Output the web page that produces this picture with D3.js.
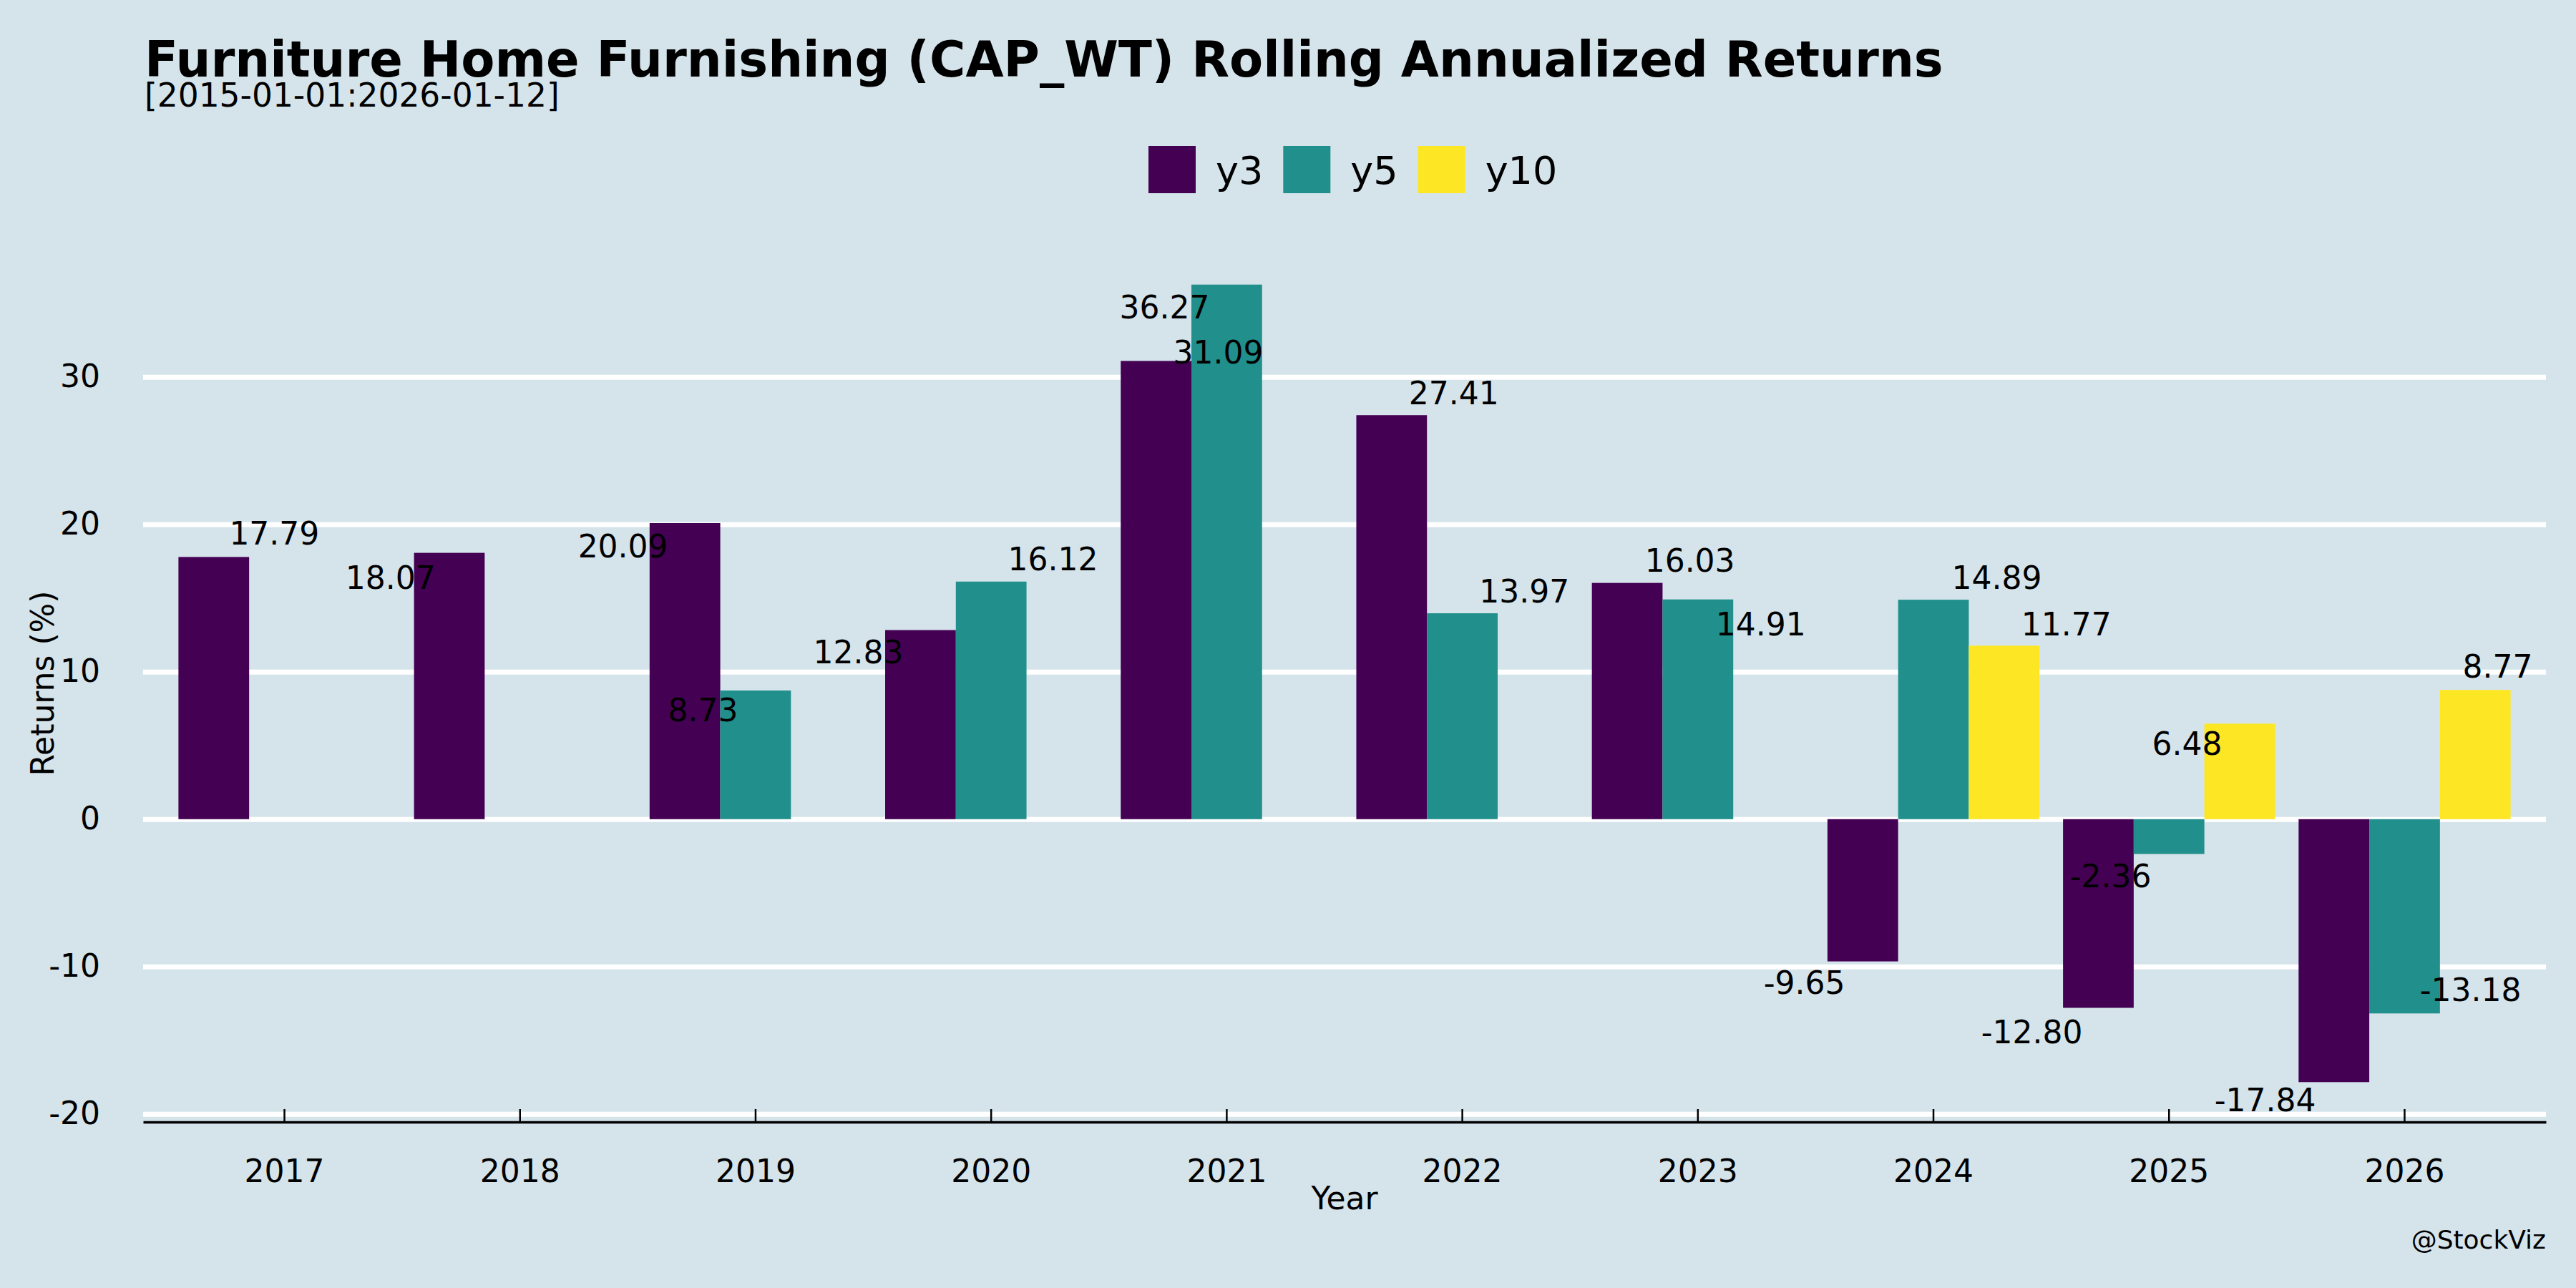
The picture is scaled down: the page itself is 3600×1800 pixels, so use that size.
<!DOCTYPE html>
<html>
<head>
<meta charset="utf-8">
<script src="https://cdn.jsdelivr.net/npm/d3@7/dist/d3.min.js"></script>
<style>
  body { margin: 0; background: #d5e4eb; }
  svg { display: block; font-family: "DejaVu Sans", sans-serif; }
</style>
</head>
<body>
<svg id="chart" width="3600" height="1800"></svg>
<script>
// data
const years = ["2017", "2018", "2019", "2020", "2021", "2022", "2023", "2024", "2025", "2026"];
const seriesNames = ["y3", "y5", "y10"];
const y3 = [17.79, 18.07, 20.09, 12.83, 31.09, 27.41, 16.03, -9.65, -12.80, -17.84];
const y5 = [null, null, 8.73, 16.12, 36.27, 13.97, 14.91, 14.89, -2.36, -13.18];
const y10 = [null, null, null, null, null, null, null, 11.77, 6.48, 8.77];
const yTicks = [-20, -10, 0, 10, 20, 30];

// label jitter as seen in the picture: [dx in band steps, dy in value units]
const y3Jitter = [[0.257, 1.57], [-0.25, -1.70], [-0.263, -1.60], [-0.264, -1.53], [0.264, 0.58],
  [0.264, 1.48], [0.266, 1.51], [-0.248, -1.48], [-0.282, -1.65], [-0.292, -1.22]];
const y5Jitter = [null, null, [-0.223, -1.32], [0.262, 1.51], [-0.264, -1.55],
  [0.263, 1.48], [0.267, -1.69], [0.269, 1.49], [-0.248, -1.49], [0.28, 1.59]];
const y10Jitter = [null, null, null, null, null, null, null, [0.264, 1.45], [-0.223, -1.35], [0.095, 1.60]];

const colors = { y3: "#440154", y5: "#21908c", y10: "#fde725" };

const rows = [];
[y3, y5, y10].forEach((vals, s) => {
  const jit = [y3Jitter, y5Jitter, y10Jitter][s];
  vals.forEach((v, i) => {
    if (v !== null) rows.push({ year: years[i], series: seriesNames[s], value: v, jitter: jit[i] });
  });
});

const svg = d3.select("#chart");
const plotLeft = 200, plotRight = 3558, plotTop = 342, plotBottom = 1568;

const x0 = d3.scaleBand(years, [plotLeft, plotRight]).paddingInner(0).paddingOuter(0.1);
const step = x0.step();
const x1 = d3.scaleBand(seriesNames, [0.05 * step, 0.95 * step]);
const y = d3.scaleLinear([-20.545, 38.975], [plotBottom, plotTop]);

// grid + y labels
const gy = svg.append("g")
  .attr("transform", `translate(${plotLeft},0)`)
  .call(d3.axisLeft(y).tickValues(yTicks).tickFormat((d) => String(d))
    .tickSize(-(plotRight - plotLeft)).tickPadding(60));
gy.select(".domain").remove();
gy.selectAll(".tick line").attr("stroke", "#ffffff").attr("stroke-width", 7);
gy.selectAll(".tick text").attr("font-size", 44).attr("fill", "#000")
  .attr("font-family", "DejaVu Sans");

// bars
svg.append("g")
  .selectAll("rect")
  .data(rows)
  .join("rect")
  .attr("x", (d) => x0(d.year) + x1(d.series))
  .attr("width", x1.bandwidth())
  .attr("y", (d) => y(Math.max(0, d.value)))
  .attr("height", (d) => Math.abs(y(d.value) - y(0)))
  .attr("fill", (d) => colors[d.series]);

// value labels
svg.append("g")
  .selectAll("text")
  .data(rows)
  .join("text")
  .attr("x", (d) => x0(d.year) + x1(d.series) + x1.bandwidth() / 2 + d.jitter[0] * step)
  .attr("y", (d) => y(d.value + d.jitter[1]))
  .attr("dy", "0.35em")
  .attr("text-anchor", "middle")
  .attr("font-size", 44)
  .attr("fill", "#000")
  .text((d) => d.value.toFixed(2));

// x axis
const gx = svg.append("g")
  .attr("transform", `translate(0,${plotBottom})`)
  .call(d3.axisBottom(x0).tickSizeInner(-18).tickSizeOuter(0).tickPadding(53));
gx.select(".domain").attr("stroke", "#000").attr("stroke-width", 3.5);
gx.selectAll(".tick line").attr("stroke", "#000").attr("stroke-width", 2.5);
gx.selectAll(".tick text").attr("font-size", 44).attr("fill", "#000")
  .attr("font-family", "DejaVu Sans");

// titles
svg.append("text").attr("x", 202).attr("y", 107)
  .attr("font-size", 68.7).attr("font-weight", "bold")
  .text("Furniture Home Furnishing (CAP_WT) Rolling Annualized Returns");
svg.append("text").attr("x", 202).attr("y", 149)
  .attr("font-size", 45.5)
  .text("[2015-01-01:2026-01-12]");

svg.append("text").attr("x", (plotLeft + plotRight) / 2).attr("y", 1690)
  .attr("text-anchor", "middle").attr("font-size", 44).text("Year");
svg.append("text").attr("transform", `translate(75,${(plotTop + plotBottom) / 2}) rotate(-90)`)
  .attr("text-anchor", "middle").attr("font-size", 44).text("Returns (%)");
svg.append("text").attr("x", plotRight).attr("y", 1745)
  .attr("text-anchor", "end").attr("font-size", 36).text("@StockViz");

// legend
const legend = svg.append("g").attr("transform", "translate(1605,204)");
let lx = 0;
seriesNames.forEach((s) => {
  legend.append("rect").attr("x", lx).attr("y", 0).attr("width", 66).attr("height", 66)
    .attr("fill", colors[s]);
  const t = legend.append("text").attr("x", lx + 94).attr("y", 53)
    .attr("font-size", 54).text(s);
  lx += 94 + t.node().getComputedTextLength() + 28;
});
</script>
</body>
</html>
